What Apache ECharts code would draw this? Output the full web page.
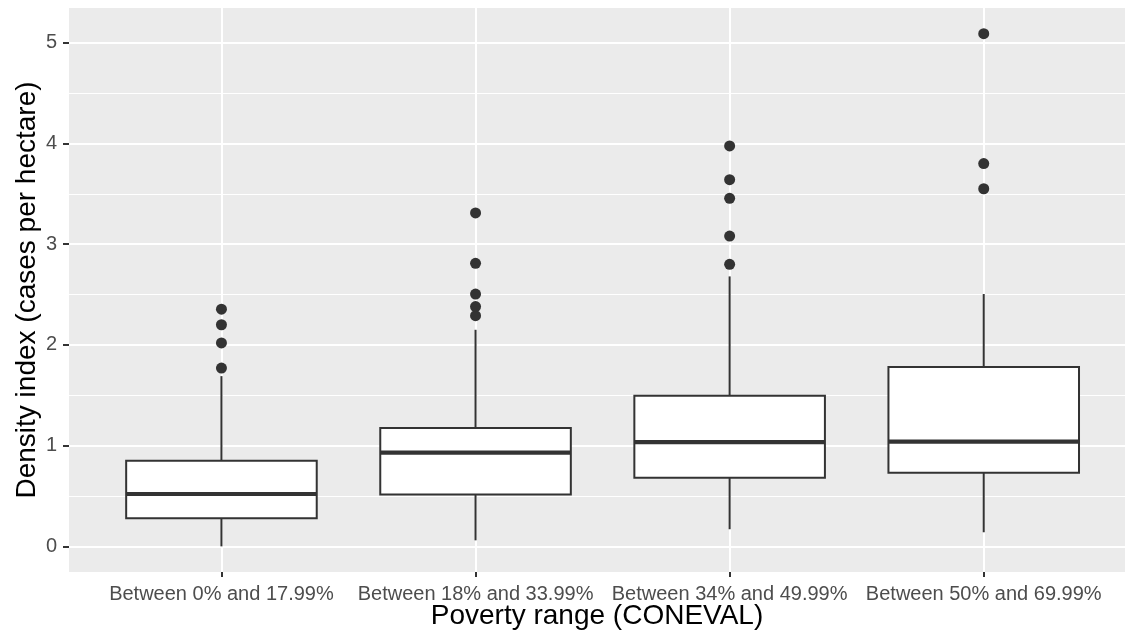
<!DOCTYPE html>
<html>
<head>
<meta charset="utf-8">
<script src="https://cdn.jsdelivr.net/npm/echarts@6/dist/echarts.min.js"></script>
<style>
  html, body { margin: 0; padding: 0; background: #ffffff; }
  #chart { width: 1125px; height: 637px; }
</style>
</head>
<body>
<div id="chart"></div>
<script>
// ---- data ----
const categories = ['Between 0% and 17.99%', 'Between 18% and 33.99%', 'Between 34% and 49.99%', 'Between 50% and 69.99%'];
const whiskerLow  = [0.00, 0.06, 0.17, 0.14];
const q1          = [0.28, 0.515, 0.68, 0.73];
const median      = [0.52, 0.93, 1.035, 1.04];
const q3          = [0.85, 1.175, 1.495, 1.78];
const whiskerHigh = [1.69, 2.15, 2.68, 2.505];
const outliers = [
  [1.77, 2.02, 2.20, 2.355],
  [2.29, 2.38, 2.505, 2.81, 3.31],
  [2.80, 3.08, 3.455, 3.64, 3.975],
  [3.55, 3.80, 5.09]
];
const yTicks = [0, 1, 2, 3, 4, 5];
const xTicks = [0, 1, 2, 3];

// ---- derived (ggplot-like 5% expansion of data range) ----
const allVals = whiskerLow.concat(whiskerHigh, [].concat(...outliers));
const dMin = Math.min(...allVals), dMax = Math.max(...allVals);
const pad = (dMax - dMin) * 0.05;
const yMin = dMin - pad, yMax = dMax + pad;

const boxData = categories.map((c, i) => [i, whiskerLow[i], q1[i], median[i], q3[i], whiskerHigh[i]]);
const outlierData = [];
outliers.forEach((arr, i) => arr.forEach(v => outlierData.push([i, v])));

const FONT = "'Liberation Sans', Arial, Helvetica, sans-serif";
const INK = '#333333';

function renderBox(params, api) {
  const x = api.value(0);
  const lo = api.coord([x, api.value(1)]);
  const b1 = api.coord([x, api.value(2)]);
  const md = api.coord([x, api.value(3)]);
  const b3 = api.coord([x, api.value(4)]);
  const hi = api.coord([x, api.value(5)]);
  const w = api.size([1, 0])[0] * 0.75;
  const ls = { stroke: INK, lineWidth: 2, fill: null };
  return {
    type: 'group',
    children: [
      { type: 'line', shape: { x1: lo[0], y1: lo[1], x2: b1[0], y2: b1[1] }, style: ls },
      { type: 'line', shape: { x1: b3[0], y1: b3[1], x2: hi[0], y2: hi[1] }, style: ls },
      { type: 'rect', shape: { x: b3[0] - w / 2, y: b3[1], width: w, height: b1[1] - b3[1] },
        style: { fill: '#ffffff', stroke: INK, lineWidth: 2 } },
      { type: 'line', shape: { x1: md[0] - w / 2, y1: md[1], x2: md[0] + w / 2, y2: md[1] },
        style: { stroke: INK, lineWidth: 4.2 } }
    ]
  };
}

const chart = echarts.init(document.getElementById('chart'), null, { renderer: 'canvas' });
chart.setOption({
  animation: false,
  backgroundColor: '#ffffff',
  textStyle: { fontFamily: FONT },
  grid: {
    left: 69, top: 8, right: 0, height: 564,
    show: true, backgroundColor: '#EBEBEB', borderWidth: 0,
    containLabel: false, outerBoundsMode: 'none'
  },
  xAxis: {
    // panel in the reference runs past the right edge of the picture (cropped)
    type: 'value', min: -0.6, max: 3.556,
    name: 'Poverty range (CONEVAL)', nameLocation: 'middle', nameGap: 44, nameMoveOverlap: false,
    nameTextStyle: { fontSize: 28, color: '#000000', fontFamily: FONT, verticalAlign: 'middle' },
    axisLine: { show: false, onZero: false },
    axisTick: { show: true, length: 5, lineStyle: { color: INK, width: 2 }, customValues: xTicks },
    axisLabel: {
      customValues: xTicks, margin: 12, fontSize: 20, color: '#4D4D4D', fontFamily: FONT,
      formatter: v => (Number.isInteger(v) && categories[v] !== undefined) ? categories[v] : ''
    },
    splitLine: { show: true, lineStyle: { color: '#ffffff', width: 2 } },
    minorSplitLine: { show: false }
  },
  yAxis: {
    type: 'value', min: yMin, max: yMax,
    name: 'Density index (cases per hectare)', nameLocation: 'middle', nameGap: 42, nameMoveOverlap: false,
    nameTextStyle: { fontSize: 28, color: '#000000', fontFamily: FONT, verticalAlign: 'middle' },
    axisLine: { show: false, onZero: false },
    axisTick: { show: true, length: 6, lineStyle: { color: INK, width: 2 }, customValues: yTicks },
    axisLabel: {
      customValues: yTicks, margin: 12, fontSize: 20, color: '#4D4D4D', fontFamily: FONT
    },
    splitLine: { show: true, lineStyle: { color: '#ffffff', width: 2 } },
    minorTick: { show: false, splitNumber: 2 },
    minorSplitLine: { show: true, lineStyle: { color: '#ffffff', width: 1 } }
  },
  series: [
    {
      type: 'custom', renderItem: renderBox, data: boxData,
      encode: { x: 0, y: [1, 2, 3, 4, 5] }, z: 3, clip: false
    },
    {
      type: 'scatter', data: outlierData, symbol: 'circle', symbolSize: 11,
      itemStyle: { color: INK, opacity: 1 }, z: 4
    }
  ]
});
</script>
</body>
</html>
